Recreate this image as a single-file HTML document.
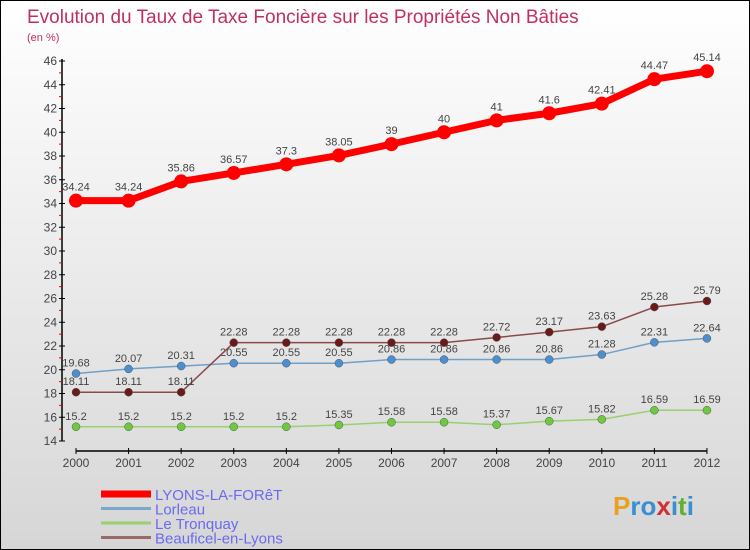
<!DOCTYPE html>
<html><head><meta charset="utf-8"><style>
body{margin:0}
#c{width:750px;height:550px;position:relative;box-sizing:border-box;border:1px solid #000;background:linear-gradient(#fff,#d6d6d6);font-family:"Liberation Sans",sans-serif;overflow:hidden}
</style></head><body>
<div id="c">
<svg id="s" width="750" height="550" style="position:absolute;left:0;top:0">
<text x="26" y="22" font-size="19" fill="#c0305f">Evolution du Taux de Taxe Foncière sur les Propriétés Non Bâties</text>
<text x="26" y="40" font-size="11" fill="#c0305f">(en %)</text>
<g id="g"></g>
</svg>
<div style="position:absolute;left:612px;top:490px;font-size:26px;font-weight:bold;color:#3a8fd0"><span style="color:#e8a020">P</span>ro<span style="color:#d03030">x</span>i<span style="color:#60b030">t</span>i</div>
</div>
<script>
const years=[2000,2001,2002,2003,2004,2005,2006,2007,2008,2009,2010,2011,2012];
const lyons=[34.24,34.24,35.86,36.57,37.3,38.05,39,40,41,41.6,42.41,44.47,45.14];
const lorleau=[19.68,20.07,20.31,20.55,20.55,20.55,20.86,20.86,20.86,20.86,21.28,22.31,22.64];
const tronquay=[15.2,15.2,15.2,15.2,15.2,15.35,15.58,15.58,15.37,15.67,15.82,16.59,16.59];
const beauficel=[18.11,18.11,18.11,22.28,22.28,22.28,22.28,22.28,22.72,23.17,23.63,25.28,25.79];
const yTicks=[14,16,18,20,22,24,26,28,30,32,34,36,38,40,42,44,46];
const names=["LYONS-LA-FORêT","Lorleau","Le Tronquay","Beauficel-en-Lyons"];
const NS="http://www.w3.org/2000/svg";
const g=document.getElementById('g');
const X=i=>75+i*52.58;
const Y=v=>440-(v-14)*11.875;
function mk(t,a,p){const e=document.createElementNS(NS,t);for(const k in a)e.setAttribute(k,a[k]);(p||g).appendChild(e);return e;}
// axes
let ax=mk('line',{x1:61,y1:58,x2:61,y2:440,stroke:'#000','stroke-width':1.5});


let xa=mk('line',{x1:75,y1:450,x2:706,y2:450,stroke:'#000','stroke-width':1.5});


yTicks.forEach((v,i)=>{
 mk('line',{x1:58,x2:64,y1:Y(v),y2:Y(v),stroke:'#000'});
 if(i<yTicks.length-1) mk('line',{x1:58,x2:61,y1:Y(v+1),y2:Y(v+1),stroke:'#e00'});
 const t=mk('text',{x:56,y:Y(v)+4,'text-anchor':'end','font-size':12,fill:'#444'});
 t.textContent=v;
 
 
});
years.forEach((yr,i)=>{
 mk('line',{x1:X(i),x2:X(i),y1:447,y2:453,stroke:'#000'});
 const t=mk('text',{x:X(i),y:466,'text-anchor':'middle','font-size':12,fill:'#444'});
 t.textContent=yr;
 
 
});
const series=[[lorleau,'#6fa0c8','#4a90d0',1.5,4],[tronquay,'#9ad070','#70c840',1.5,4],[beauficel,'#8a4a4a','#6a1a1a',1.5,4],[lyons,'#f00','#f00',7,7]];
const sn=['series-lorleau','series-tronquay','series-beauficel','series-lyons'];
series.forEach(([d,lc,pc,w,r],si)=>{
 const sg=mk('g',{});
 
 
 mk('polyline',{points:d.map((v,i)=>X(i)+','+Y(v)).join(' '),fill:'none',stroke:lc,'stroke-width':w,'stroke-linejoin':'round'},sg);
 d.forEach((v,i)=>{
  const c=mk('circle',{cx:X(i),cy:Y(v),r:r,fill:pc,stroke:si==3?'none':'#555','stroke-width':0.5},sg);
  
  
  const t=mk('text',{x:X(i),y:Y(v)-(si==3?10:7),'text-anchor':'middle','font-size':11,fill:'#444'},sg);
  t.textContent=v;
  
  
 });
});
const lc=['#f00','#7aa8cc','#9ad070','#9a6a6a'],lw=[7,3,3,3];
names.forEach((n,i)=>{
 const y=493+i*14.5;
 const l=mk('line',{x1:100,x2:150,y1:y,y2:y,stroke:lc[i],'stroke-width':lw[i]});
 
 
 const t=mk('text',{x:154,y:y+6,'font-size':15,fill:'#6a6af0'});
 t.textContent=n;
 
 
});
</script>
</body></html>
